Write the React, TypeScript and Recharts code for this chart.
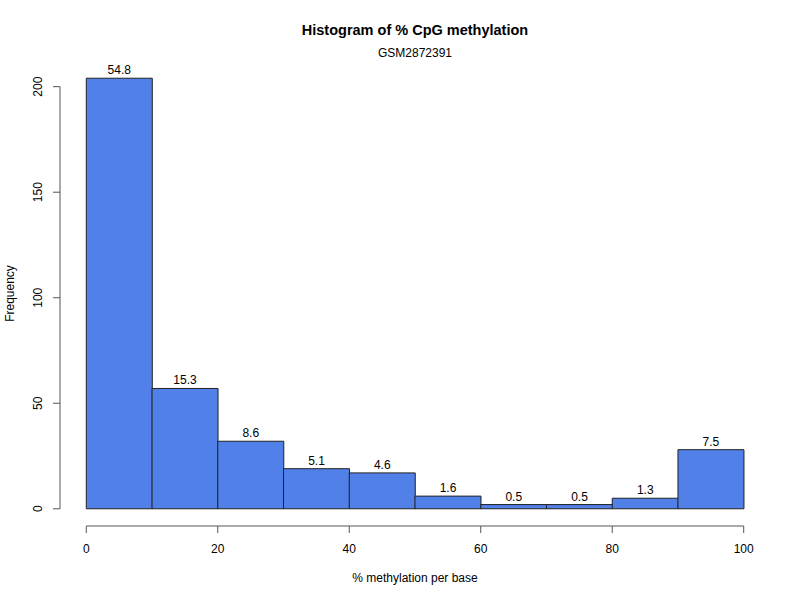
import { BarChart, Bar, XAxis, YAxis, ReferenceLine, LabelList } from 'recharts';

// histogram bins (midpoints), counts and % of total shown above each bar
const binMids = [5, 15, 25, 35, 45, 55, 65, 75, 85, 95];
const counts = [204, 57, 32, 19, 17, 6, 2, 2, 5, 28];
const percents = ['54.8', '15.3', '8.6', '5.1', '4.6', '1.6', '0.5', '0.5', '1.3', '7.5'];
const xTicks = [0, 20, 40, 60, 80, 100];
const yTicks = [0, 50, 100, 150, 200];

const W = 800;
const H = 600;
const TOP = 61;
const LEFT = 60;
const RIGHT = 30;
const BOTTOM = 74;
const FONT = '"Liberation Sans", Arial, Helvetica, sans-serif';
const AXIS = '#555';

// R-style 4% padding on both axes
const xDomain = [-4, 104];
const yMax = Math.max(...counts);
const yDomain = [-0.04 * yMax, 1.04 * yMax];
const plotW = W - LEFT - RIGHT;

const data = binMids.map((mid, i) => ({ mid, count: counts[i], pct: percents[i] }));

const XTick = ({ x, y, payload }: any) => (
    <text x={x} y={y} dy={18} textAnchor="middle" fontSize={12} fontFamily={FONT} fill="#000">
        {payload.value}
    </text>
);

const YTick = ({ x, y, payload }: any) => {
    const bx = x - 9;
    return (
        <text x={bx} y={y} transform={`rotate(-90 ${bx} ${y})`} textAnchor="middle" fontSize={12} fontFamily={FONT} fill="#000">
            {payload.value}
        </text>
    );
};

export default function App() {
    return (
        <div style={{ position: 'absolute', left: 0, top: 0, width: W, height: H, background: '#fff', fontFamily: FONT }}>
            <div style={{ position: 'absolute', top: 22, left: LEFT, width: plotW, textAlign: 'center', fontSize: 14.5, lineHeight: '16px', fontWeight: 'bold', color: '#000' }}>
                Histogram of % CpG methylation
            </div>
            <div style={{ position: 'absolute', top: 46, left: LEFT, width: plotW, textAlign: 'center', fontSize: 12, lineHeight: '14px', color: '#000' }}>
                GSM2872391
            </div>
            <BarChart
                width={W}
                height={H}
                data={data}
                margin={{ top: TOP, right: RIGHT, left: 0, bottom: 0 }}
                barCategoryGap={0}
                barGap={0}
            >
                <XAxis
                    type="number"
                    dataKey="mid"
                    domain={xDomain}
                    ticks={xTicks}
                    allowDataOverflow
                    axisLine={false}
                    tickLine={{ stroke: AXIS }}
                    tickSize={7}
                    height={BOTTOM}
                    tick={<XTick />}
                    label={{
                        content: ({ viewBox }: any) => (
                            <text x={viewBox.x + viewBox.width / 2} y={582} textAnchor="middle" fontSize={12} fontFamily={FONT} fill="#000">
                                % methylation per base
                            </text>
                        ),
                    }}
                />
                <YAxis
                    type="number"
                    domain={yDomain}
                    ticks={yTicks}
                    allowDataOverflow
                    axisLine={false}
                    tickLine={{ stroke: AXIS }}
                    tickSize={7}
                    width={LEFT}
                    tick={<YTick />}
                    label={{
                        content: ({ viewBox }: any) => {
                            const cy = viewBox.y + viewBox.height / 2;
                            return (
                                <text x={14} y={cy} transform={`rotate(-90 14 ${cy})`} textAnchor="middle" fontSize={12} fontFamily={FONT} fill="#000">
                                    Frequency
                                </text>
                            );
                        },
                    }}
                />
                <ReferenceLine
                    segment={[{ x: xTicks[0], y: yDomain[0] }, { x: xTicks[xTicks.length - 1], y: yDomain[0] }]}
                    stroke={AXIS}
                    ifOverflow="visible"
                />
                <ReferenceLine
                    segment={[{ x: xDomain[0], y: yTicks[0] }, { x: xDomain[0], y: yTicks[yTicks.length - 1] }]}
                    stroke={AXIS}
                    ifOverflow="visible"
                />
                <Bar dataKey="count" fill="#5080e8" stroke="#222" strokeWidth={1} isAnimationActive={false}>
                    <LabelList dataKey="pct" position="top" offset={4} fontSize={12} fontFamily={FONT} fill="#000" />
                </Bar>
            </BarChart>
        </div>
    );
}
